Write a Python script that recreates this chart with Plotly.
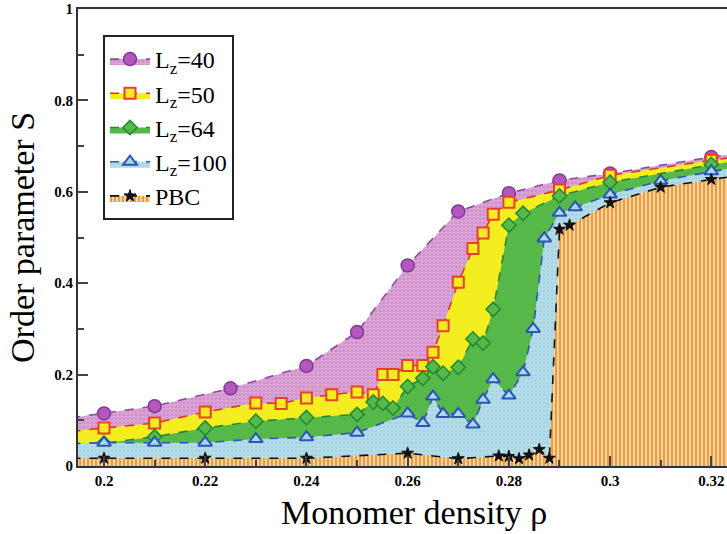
import plotly.graph_objects as go

# Order parameter S versus monomer density rho for several confinement widths
rho_40 = [0.19, 0.20, 0.21, 0.225, 0.24, 0.25, 0.26, 0.27, 0.28, 0.29, 0.30, 0.32, 0.33]
S_40 = [0.100, 0.115, 0.131, 0.170, 0.219, 0.293, 0.439, 0.557, 0.597, 0.625, 0.640, 0.676, 0.692]

rho_50 = [0.19, 0.20, 0.21, 0.22, 0.23, 0.235, 0.24, 0.245, 0.25, 0.2532, 0.2551, 0.2571,
          0.26, 0.2630, 0.2650, 0.2670, 0.27, 0.2729, 0.2749, 0.2769, 0.28, 0.29, 0.30, 0.32, 0.33]
S_50 = [0.072, 0.083, 0.094, 0.118, 0.138, 0.137, 0.149, 0.156, 0.162, 0.156, 0.200, 0.200,
        0.220, 0.220, 0.249, 0.307, 0.402, 0.476, 0.510, 0.551, 0.577, 0.604, 0.636, 0.669, 0.684]

rho_64 = [0.19, 0.20, 0.21, 0.22, 0.23, 0.24, 0.25, 0.2532, 0.2551, 0.2571, 0.26, 0.2630,
          0.2650, 0.2670, 0.27, 0.2729, 0.2749, 0.2769, 0.28, 0.2828, 0.29, 0.30, 0.32, 0.33]
S_64 = [0.046, 0.050, 0.064, 0.083, 0.098, 0.106, 0.113, 0.140, 0.137, 0.127, 0.174, 0.192,
        0.217, 0.203, 0.216, 0.278, 0.269, 0.343, 0.527, 0.553, 0.591, 0.621, 0.660, 0.678]

rho_100 = [0.19, 0.20, 0.21, 0.22, 0.23, 0.24, 0.25, 0.26, 0.2630, 0.2650, 0.2670, 0.27,
           0.2729, 0.2749, 0.2769, 0.28, 0.2828, 0.2848, 0.2870, 0.29, 0.2931, 0.30, 0.31, 0.32, 0.33]
S_100 = [0.048, 0.051, 0.051, 0.051, 0.059, 0.063, 0.073, 0.115, 0.094, 0.152, 0.114, 0.114,
         0.091, 0.145, 0.190, 0.154, 0.205, 0.300, 0.498, 0.554, 0.566, 0.594, 0.624, 0.645, 0.664]

rho_pbc = [0.19, 0.20, 0.22, 0.24, 0.26, 0.27, 0.278, 0.28, 0.282, 0.284, 0.286, 0.288,
           0.29, 0.292, 0.30, 0.31, 0.32, 0.33]
S_pbc = [0.017, 0.017, 0.017, 0.017, 0.028, 0.016, 0.022, 0.021, 0.016, 0.024, 0.036, 0.017,
         0.518, 0.527, 0.576, 0.610, 0.627, 0.643]

series = [
    dict(name="L<sub>z</sub>=40", x=rho_40, y=S_40, line="#8c4aa6",
         marker=dict(symbol="circle", size=13, color="#b456bc", line=dict(color="#7e3a98", width=1.5)),
         fill=dict(bg="#dba3d5", fg="#c98cc4", shape=".", size=4, solidity=0.25)),
    dict(name="L<sub>z</sub>=50", x=rho_50, y=S_50, line="#e4322a",
         marker=dict(symbol="square", size=11, color="#f6ea22", line=dict(color="#e8402a", width=2)),
         fill=dict(bg="#f4ee20", fg=None)),
    dict(name="L<sub>z</sub>=64", x=rho_64, y=S_64, line="#23883a",
         marker=dict(symbol="diamond", size=11, color="#58b84a", line=dict(color="#1f8a33", width=1.5)),
         fill=dict(bg="#55b848", fg=None)),
    dict(name="L<sub>z</sub>=100", x=rho_100, y=S_100, line="#2e58b0",
         marker=dict(symbol="triangle-up", size=12, color="#a9d9f0", line=dict(color="#2b54b4", width=2)),
         fill=dict(bg="#b4dde9", fg="#a2d2e2", shape=".", size=4, solidity=0.25)),
    dict(name="PBC", x=rho_pbc, y=S_pbc, line="#111111",
         marker=dict(symbol="star", size=9, color="#111111", line=dict(color="#111111", width=1)),
         fill=dict(bg="#fbdcb2", fg="#f09a3a", shape="|", size=4, solidity=0.55)),
]

fig = go.Figure()
for s in series:
    f = s["fill"]
    trace = dict(
        x=s["x"], y=s["y"], name=s["name"], mode="lines+markers",
        line=dict(color=s["line"], width=1.6, dash="dash"),
        marker=s["marker"], fill="tozeroy", fillcolor=f["bg"],
    )
    if f["fg"] is not None:
        trace["fillpattern"] = dict(shape=f["shape"], bgcolor=f["bg"], fgcolor=f["fg"],
                                    size=f["size"], solidity=f["solidity"], fillmode="replace")
    fig.add_trace(go.Scatter(**trace))

serif = "Liberation Serif"
axis_common = dict(
    showline=True, linecolor="#333333", linewidth=2,
    ticks="inside", ticklen=10, tickwidth=2, tickcolor="#444444",
    showgrid=False, zeroline=False,
    tickfont=dict(family=serif, size=15, color="black", weight="bold"),
)

fig.update_layout(
    width=727, height=534,
    margin=dict(l=78, r=0, t=9, b=68),
    paper_bgcolor="white", plot_bgcolor="white",
    showlegend=True,
    legend=dict(
        x=25 / 649, y=(466 - 35) / 457, xanchor="left", yanchor="top",
        bgcolor="white", bordercolor="#222222", borderwidth=2,
        font=dict(family=serif, size=24, color="black"),
        itemwidth=40,
    ),
    xaxis=dict(
        range=[0.19486, 0.3231], dtick=0.02, tick0=0.2, mirror=True,
        minor=dict(ticks="inside", ticklen=6, dtick=0.01, tick0=0.2, tickcolor="#444444", tickwidth=2),
        **axis_common,
    ),
    yaxis=dict(
        range=[0, 1], dtick=0.2, tick0=0, mirror=False,
        minor=dict(ticks="inside", ticklen=6, dtick=0.1, tick0=0, tickcolor="#444444", tickwidth=2),
        **axis_common,
    ),
    annotations=[
        dict(text="Monomer density \u03c1", xref="paper", yref="paper",
             x=(414 - 78) / 649, y=-(512 - 466) / 457, xanchor="center", yanchor="middle",
             showarrow=False, font=dict(family=serif, size=34, color="black")),
        dict(text="Order parameter S", xref="paper", yref="paper",
             x=(22 - 78) / 649, y=(466 - 238) / 457, xanchor="center", yanchor="middle",
             textangle=-90, showarrow=False, font=dict(family=serif, size=34, color="black")),
    ],
)

fig.write_html("out.html")
